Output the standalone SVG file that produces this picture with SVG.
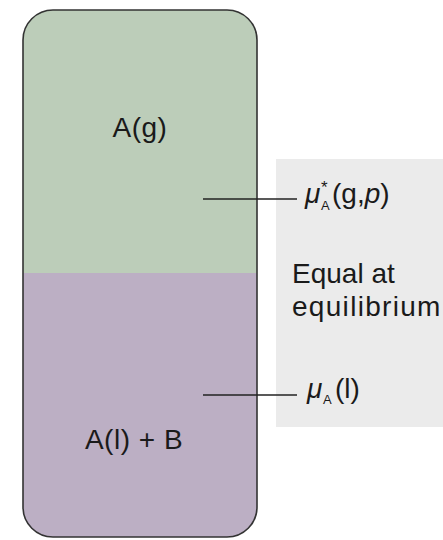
<svg xmlns="http://www.w3.org/2000/svg" width="443" height="540" viewBox="0 0 443 540">
<style>
.t{font-family:"Liberation Sans",Arial,sans-serif;font-size:28px;fill:#1a1a1a}
.i{font-style:italic}
.s{font-size:13px}
.lead{stroke:#222;stroke-width:1.3;fill:none}
</style>
<defs>
<clipPath id="cp"><rect x="23" y="10" width="234" height="527" rx="30" ry="30"/></clipPath>
</defs>
<rect id="panel" x="276" y="159" width="167" height="268" fill="#ebebeb"/>
<g id="vessel">
<g clip-path="url(#cp)">
<rect x="23" y="10" width="234" height="263" fill="#bccdb9"/>
<rect x="23" y="273" width="234" height="264" fill="#bcafc4"/>
</g>
<rect x="23" y="10" width="234" height="527" rx="30" ry="30" fill="none" stroke="#333" stroke-width="1.6"/>
</g>
<g id="gas"><text class="t" x="140" y="137" text-anchor="middle" letter-spacing="0.5">A(g)</text></g>
<g id="liquid"><text class="t" x="134" y="449" text-anchor="middle" letter-spacing="0.5">A(l) + B</text></g>
<g id="connectors">
<line class="lead" x1="203" y1="199" x2="297" y2="199"/>
<line class="lead" x1="203" y1="395" x2="297" y2="395"/>
</g>
<g id="mu-gas"><text class="t" y="203"><tspan class="i" x="305">μ</tspan><tspan class="s" x="321" y="210">A</tspan></text><text class="t" x="321" y="193" style="font-size:17px">*</text><text class="t" x="332" y="203">(g,<tspan class="i">p</tspan>)</text></g>
<g id="equal"><text class="t" x="292" y="283">Equal at</text><text class="t" x="292" y="316" letter-spacing="1.3">equilibrium</text></g>
<g id="mu-liq"><text class="t" y="398"><tspan class="i" x="307">μ</tspan><tspan class="s" x="323" y="404">A</tspan><tspan x="335" y="398">(l)</tspan></text></g>
</svg>
